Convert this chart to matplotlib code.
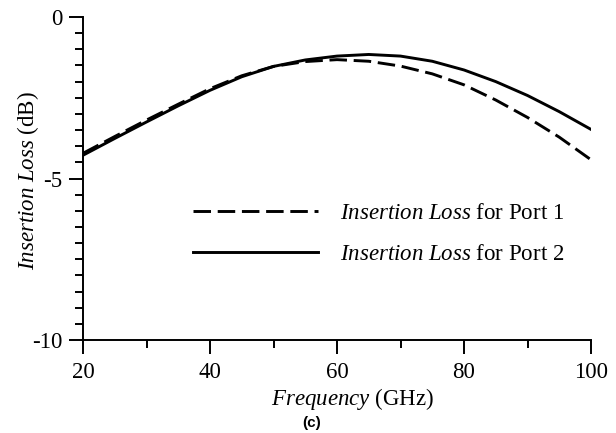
import numpy as np
import matplotlib
matplotlib.use("Agg")
import matplotlib.pyplot as plt
from matplotlib.ticker import MultipleLocator

plt.rcParams["font.family"] = ["Liberation Serif", "DejaVu Serif"]
plt.rcParams["mathtext.fontset"] = "custom"
plt.rcParams["mathtext.rm"] = "Liberation Serif"
plt.rcParams["mathtext.it"] = "Liberation Serif:italic"
plt.rcParams["axes.unicode_minus"] = False

# ── Data ──────────────────────────────────────────────────────────────────────
freq_ghz = [20, 25, 30, 35, 40, 45, 50, 55, 60, 65, 70, 75, 80, 85, 90, 95, 100]
loss_port1 = [-4.22, -3.70, -3.19, -2.70, -2.22, -1.82, -1.53, -1.38, -1.32,
              -1.37, -1.52, -1.76, -2.10, -2.57, -3.11, -3.72, -4.42]
loss_port2 = [-4.28, -3.76, -3.25, -2.75, -2.27, -1.85, -1.53, -1.33, -1.21,
              -1.16, -1.21, -1.37, -1.64, -2.00, -2.43, -2.93, -3.48]
x_ticks = [20, 40, 60, 80, 100]
y_ticks = [-10, -5, 0]
y_ticklabels = ["-10", "-5", "0"]

W, H = 616, 433
FS = 16.5
fig = plt.figure(figsize=(W / 100, H / 100), dpi=100)
ax = fig.add_axes([83 / W, 1 - 340 / H, (591 - 83) / W, (340 - 17) / H])

ax.plot(freq_ghz, loss_port1, color="black", linewidth=2.1,
        linestyle=(0, (6.0, 2.3)), label=r"$\it{Insertion\ Loss}$ for Port 1")
ax.plot(freq_ghz, loss_port2, color="black", linewidth=2.1,
        label=r"$\it{Insertion\ Loss}$ for Port 2")

ax.set_xlim(20, 100)
ax.set_ylim(-10, 0)
ax.set_xticks(x_ticks)
ax.xaxis.set_minor_locator(MultipleLocator(10))
ax.set_yticks(y_ticks)
ax.set_yticklabels(y_ticklabels)
ax.yaxis.set_minor_locator(MultipleLocator(0.5))

for side in ("top", "right"):
    ax.spines[side].set_visible(False)
for side in ("left", "bottom"):
    ax.spines[side].set_linewidth(1.4)

ax.tick_params(which="major", direction="out", length=10, width=1.4,
               labelsize=FS)
ax.tick_params(which="minor", direction="out", length=5.5, width=1.4)
ax.tick_params(axis="x", which="major", pad=6)
ax.tick_params(axis="y", which="major", pad=5)

ax.set_xlabel(r"$\it{Frequency}$ (GHz)", fontsize=FS)
ax.set_ylabel(r"$\it{Insertion\ Loss}$ (dB)", fontsize=FS)
ax.xaxis.set_label_coords((353 - 83) / (591 - 83), -(399 - 340) / (340 - 17), transform=ax.transAxes)
ax.xaxis.label.set_va("center")
ax.yaxis.set_label_coords(-(83 - 28) / (591 - 83), (340 - 181) / (340 - 17), transform=ax.transAxes)
ax.yaxis.label.set_va("center")

ax.legend(loc="center left", bbox_to_anchor=((193 - 83) / (591 - 83), (340 - 234) / (340 - 17)),
          frameon=False, fontsize=FS, handlelength=5.45, handletextpad=0.95,
          labelspacing=0.83, borderpad=0, borderaxespad=0)

fig.text(312 / W, 1 - 423 / H, "(c)", family="Liberation Sans", fontweight="bold",
         fontsize=11, ha="center", va="center")

fig.savefig("out.png", dpi=100)
